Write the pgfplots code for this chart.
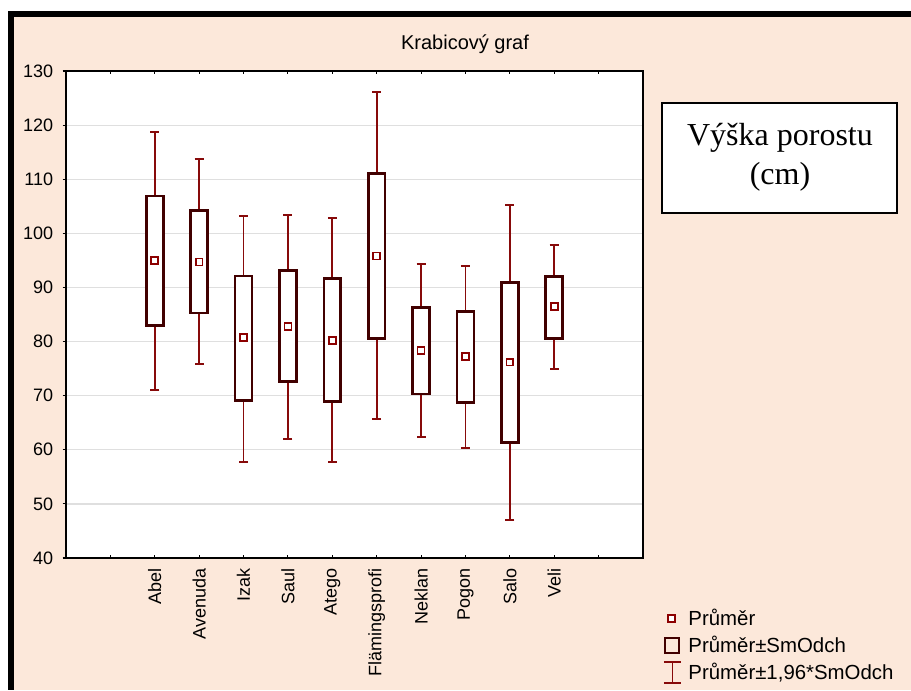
\documentclass[border=0pt]{standalone}
\usepackage{pgfplots}
\pgfplotsset{compat=1.18}
\usepackage{fontspec}
\setmainfont{Liberation Sans}
\newfontfamily\timesf{Liberation Serif}
\definecolor{peach}{RGB}{252,232,218}
\definecolor{boxc}{RGB}{65,0,0}
\definecolor{whc}{RGB}{135,10,10}
\definecolor{meanc}{RGB}{140,0,0}
\begin{document}
\begin{tikzpicture}
\begin{scope}[x=0.75pt,y=-0.75pt]
\fill[white] (0,0) rectangle (911,690);
\fill[black] (8,11) rectangle (911,690);
\fill[peach] (14,17) rectangle (911,690);
\node[font=\fontsize{15}{17}\selectfont] at (465,44) {Krabicový graf};
\draw[black, line width=1pt, fill=white] (662,103) rectangle (897,213);
\node[anchor=base, font=\timesf\fontsize{24}{28}\selectfont, inner sep=0pt] at (780,145) {Výška porostu};
\node[anchor=base, font=\timesf\fontsize{24}{28}\selectfont, inner sep=0pt] at (780,184) {(cm)};
\end{scope}
\begin{axis}[
  at={(49.5pt,-418.5pt)}, anchor=south west,
  scale only axis, width=432.75pt, height=365.25pt,
  xmin=-2, xmax=11, ymin=40, ymax=130,
  xtick={-1,0,1,2,3,4,5,6,7,8,9,10},
  xticklabels={{},Abel,Avenuda,Izak,Saul,Atego,Flämingsprofi,Neklan,Pogon,Salo,Veli,{}},
  ytick={40,50,...,130},
  ytick pos=left,
  tick align=inside,
  major tick length=2.5pt,
  y tick style={xshift=-2.5pt},
  tick style={black, line width=0.8pt},
  xticklabel style={rotate=90, anchor=east, inner sep=0pt, font=\fontsize{13.5}{16}\selectfont},
  xticklabel shift=8pt,
  yticklabel style={anchor=east, inner sep=0pt, font=\fontsize{13.5}{16}\selectfont},
  yticklabel shift=9.5pt,
  /pgf/number format/assume math mode=true,
  ymajorgrids,
  major grid style={draw=gray!25, line width=0.9pt},
  axis line style={black, line width=1.2pt},
  axis background/.style={fill=white},
  legend cell align=left,
  legend style={at={(axis description cs:1.0347,-0.1000)}, anchor=north west,
    draw=none, fill=none, inner sep=0pt, outer sep=0pt,
    column sep=3pt, row sep=2.4pt,
    font=\fontsize{15.3}{18}\selectfont},
]
% whiskers: mean with explicit asymmetric errors (to +-1.96 SD)
\addplot[draw=none, mark=none, forget plot,
  error bars/.cd, y dir=both, y explicit,
  error bar style={whc, line width=1.4pt},
  error mark options={whc, line width=1.4pt, rotate=90, mark size=3.4pt}]
  table[x=x, y=m, y error plus=ep, y error minus=em] {
x m ep em
0 95.0 23.8 24.0
1 94.7 19.0 18.8
2 80.7 22.5 22.9
3 82.8 20.6 20.8
4 80.2 22.6 22.4
5 95.8 30.3 30.1
6 78.4 16.0 16.0
7 77.3 16.7 17.0
8 76.2 29.1 29.2
9 86.5 11.3 11.6
};
% boxes: mean +- SD
\addplot[boxc, line width=2pt, fill=white, forget plot] coordinates {(-0.19,83.0) (0.19,83.0) (0.19,106.9) (-0.19,106.9)} -- cycle;
\addplot[boxc, line width=2pt, fill=white, forget plot] coordinates {(0.81,85.3) (1.19,85.3) (1.19,104.2) (0.81,104.2)} -- cycle;
\addplot[boxc, line width=2pt, fill=white, forget plot] coordinates {(1.81,69.1) (2.19,69.1) (2.19,92.1) (1.81,92.1)} -- cycle;
\addplot[boxc, line width=2pt, fill=white, forget plot] coordinates {(2.81,72.6) (3.19,72.6) (3.19,93.1) (2.81,93.1)} -- cycle;
\addplot[boxc, line width=2pt, fill=white, forget plot] coordinates {(3.81,68.9) (4.19,68.9) (4.19,91.6) (3.81,91.6)} -- cycle;
\addplot[boxc, line width=2pt, fill=white, forget plot] coordinates {(4.81,80.6) (5.19,80.6) (5.19,111.1) (4.81,111.1)} -- cycle;
\addplot[boxc, line width=2pt, fill=white, forget plot] coordinates {(5.81,70.3) (6.19,70.3) (6.19,86.3) (5.81,86.3)} -- cycle;
\addplot[boxc, line width=2pt, fill=white, forget plot] coordinates {(6.81,68.8) (7.19,68.8) (7.19,85.6) (6.81,85.6)} -- cycle;
\addplot[boxc, line width=2pt, fill=white, forget plot] coordinates {(7.81,61.4) (8.19,61.4) (8.19,90.9) (7.81,90.9)} -- cycle;
\addplot[boxc, line width=2pt, fill=white, forget plot] coordinates {(8.81,80.6) (9.19,80.6) (9.19,92.0) (8.81,92.0)} -- cycle;
% means
\addplot[only marks, mark=square*, mark size=2.6pt, mark options={draw=meanc, fill=white, line width=1.3pt}, forget plot] coordinates {
(0,95.0) (1,94.7) (2,80.7) (3,82.8) (4,80.2) (5,95.8) (6,78.4) (7,77.3) (8,76.2) (9,86.5)};
\addlegendimage{legend image code/.code={
  \draw[meanc, line width=1.3pt, fill=white] (3.1pt,-2.5pt) rectangle (8.1pt,2.5pt);}}
\addlegendentry{Průměr}
\addlegendimage{legend image code/.code={
  \draw[boxc, line width=1.6pt] (0.75pt,-5.5pt) rectangle (11.5pt,5.5pt);}}
\addlegendentry{Průměr±SmOdch}
\addlegendimage{legend image code/.code={
  \draw[whc, line width=1.3pt] (0pt,-7.9pt) -- (12.75pt,-7.9pt) (6.4pt,-7.9pt) -- (6.4pt,7.9pt) (0pt,7.9pt) -- (12.75pt,7.9pt);}}
\addlegendentry{Průměr±1,96*SmOdch}
\end{axis}
\pgfresetboundingbox
\path[use as bounding box] (0,0) rectangle (683.25pt,-517.5pt);
\end{tikzpicture}
\end{document}
